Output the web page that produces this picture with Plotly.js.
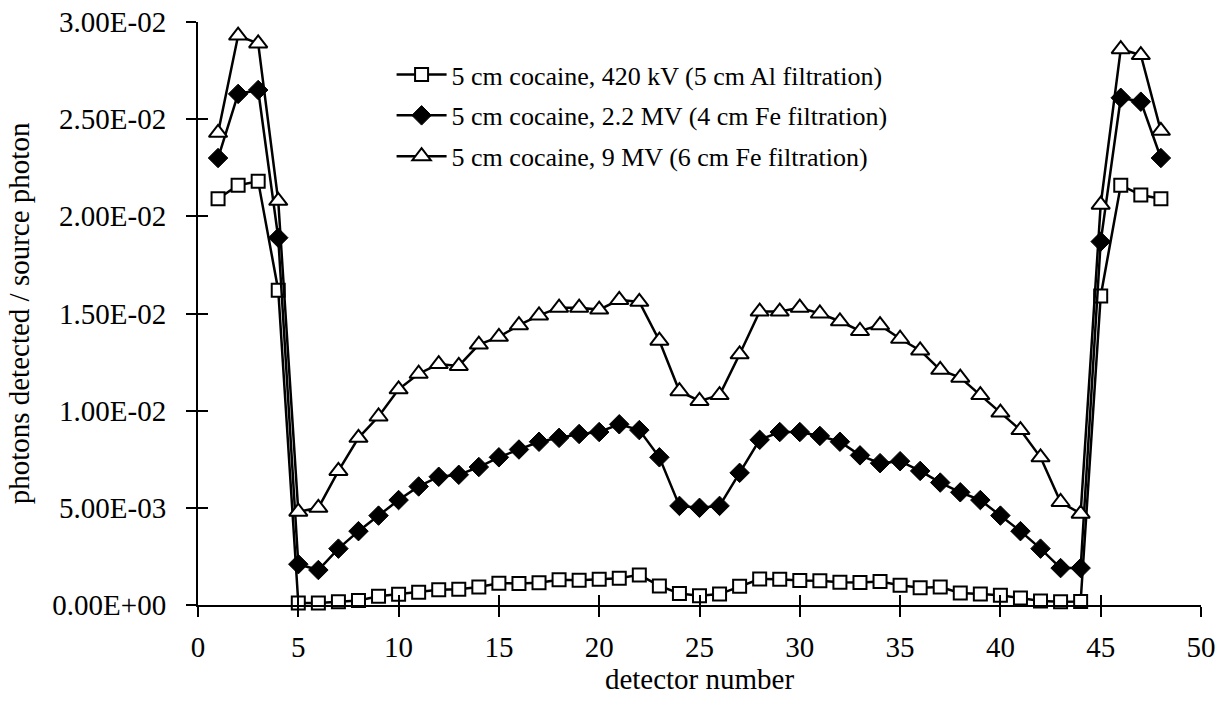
<!DOCTYPE html>
<html>
<head>
<meta charset="utf-8">
<script src="https://cdn.plot.ly/plotly-3.0.1.min.js"></script>
<style>
html,body{margin:0;padding:0;background:#fff;}
#chart{width:1227px;height:710px;}
</style>
</head>
<body>
<div id="chart"></div>
<script>
// detector numbers 1..48
const detectors = [1,2,3,4,5,6,7,8,9,10,11,12,13,14,15,16,17,18,19,20,21,22,23,24,
  25,26,27,28,29,30,31,32,33,34,35,36,37,38,39,40,41,42,43,44,45,46,47,48];

const series420kV = [0.0209,0.0216,0.0218,0.0162,0.0001,0.0001,0.00017,0.00023,0.00045,0.00055,
  0.00066,0.00078,0.00081,0.00093,0.00112,0.00111,0.00114,0.0013,0.00127,0.00133,
  0.00138,0.00155,0.00098,0.00059,0.00048,0.00056,0.00096,0.00134,0.00132,0.00126,
  0.00125,0.00117,0.00116,0.00121,0.00102,0.00089,0.00093,0.00062,0.00056,0.0005,
  0.00036,0.00021,0.00017,0.00018,0.0159,0.0216,0.0211,0.0209];

const series22MV = [0.0230,0.0263,0.0265,0.0189,0.0021,0.0018,0.0029,0.0038,0.0046,0.0054,
  0.0061,0.0066,0.0067,0.0071,0.0076,0.0080,0.0084,0.0086,0.0088,0.0089,
  0.0093,0.0090,0.0076,0.0051,0.0050,0.0051,0.0068,0.0085,0.0089,0.0089,
  0.0087,0.0084,0.0077,0.0073,0.0074,0.0069,0.0063,0.0058,0.0054,0.0046,
  0.0038,0.0029,0.0019,0.0019,0.0187,0.0261,0.0259,0.0230];

const series9MV = [0.0243,0.0293,0.0289,0.0208,0.0048,0.0050,0.0069,0.0086,0.0097,0.0111,
  0.0119,0.0124,0.0123,0.0134,0.0138,0.0144,0.0149,0.0153,0.0153,0.0152,
  0.0157,0.0156,0.0136,0.0110,0.0105,0.0108,0.0129,0.0151,0.0151,0.0153,
  0.0150,0.0146,0.0141,0.0144,0.0137,0.0131,0.0121,0.0117,0.0108,0.0099,
  0.0090,0.0076,0.0053,0.0047,0.0206,0.0286,0.0283,0.0244];

const seriesNames = [
  "5 cm cocaine, 420 kV (5 cm Al filtration)",
  "5 cm cocaine, 2.2 MV (4 cm Fe filtration)",
  "5 cm cocaine, 9 MV (6 cm Fe filtration)"
];

const yTickVals = [0,0.005,0.01,0.015,0.02,0.025,0.03];
const yTickText = ["0.00E+00","5.00E-03","1.00E-02","1.50E-02","2.00E-02","2.50E-02","3.00E-02"];
const xTickVals = [0,5,10,15,20,25,30,35,40,45,50];

const FONT = "Liberation Serif, Times New Roman, serif";

const traces = [
  {x: detectors, y: series420kV, name: seriesNames[0], legendgroup: "a", type: "scatter", mode: "lines+markers",
   line: {color: "#000", width: 2.5}, cliponaxis: false,
   marker: {symbol: "square", size: 13, color: "#fff", line: {color: "#000", width: 2}}},
  {x: detectors, y: series22MV, name: seriesNames[1], legendgroup: "b", type: "scatter", mode: "lines+markers",
   line: {color: "#000", width: 2.5}, cliponaxis: false,
   marker: {symbol: "diamond", size: 15, color: "#000", line: {color: "#000", width: 1}}},
  {x: detectors, y: series9MV, name: seriesNames[2], legendgroup: "c", type: "scatter", mode: "lines+markers",
   line: {color: "#000", width: 2.5}, cliponaxis: false,
   marker: {symbol: "triangle-up", size: 16, color: "#fff", line: {color: "#000", width: 2}}},
  // invisible trace to activate the inner-tick overlay axes
  {x: [0], y: [0], xaxis: "x2", yaxis: "y2", mode: "markers", showlegend: false,
   hoverinfo: "skip", marker: {opacity: 0}}
];

const layout = {
  width: 1227, height: 710,
  paper_bgcolor: "#fff", plot_bgcolor: "#fff",
  margin: {l: 198, r: 26, t: 22, b: 105},
  font: {family: FONT, color: "#000", size: 26},
  showlegend: true,
  legend: {x: 0.193, xanchor: "left", y: 0.95, yanchor: "top",
    bgcolor: "rgba(0,0,0,0)", font: {family: FONT, size: 26, color: "#000"},
    itemwidth: 50, tracegroupgap: 4},
  xaxis: {range: [0, 50], tickvals: xTickVals, ticks: "outside", ticklen: 10, tickwidth: 2,
    tickcolor: "#000", showline: true, linecolor: "#000", linewidth: 2,
    showgrid: false, zeroline: false, tickfont: {family: FONT, size: 29},
    ticklabelstandoff: 5,
    title: {text: "detector number", font: {family: FONT, size: 29}, standoff: 6}},
  yaxis: {range: [0, 0.03], tickvals: yTickVals, ticktext: yTickText, ticks: "outside",
    ticklen: 10, tickwidth: 2, tickcolor: "#000", showline: true, linecolor: "#000",
    linewidth: 2, showgrid: false, zeroline: false, tickfont: {family: FONT, size: 29},
    ticklabelstandoff: 14,
    title: {text: "photons detected / source photon", font: {family: FONT, size: 29}, standoff: 14}},
  xaxis2: {range: [0, 50], overlaying: "x", anchor: "y2", side: "bottom", tickvals: xTickVals,
    ticks: "inside", ticklen: 10, tickwidth: 2, tickcolor: "#000", showticklabels: false,
    showgrid: false, zeroline: false, showline: false},
  yaxis2: {range: [0, 0.03], overlaying: "y", anchor: "x2", side: "left", tickvals: yTickVals,
    ticks: "inside", ticklen: 10, tickwidth: 2, tickcolor: "#000", showticklabels: false,
    showgrid: false, zeroline: false, showline: false}
};

Plotly.newPlot("chart", traces, layout, {displayModeBar: false, staticPlot: true});
</script>
</body>
</html>
